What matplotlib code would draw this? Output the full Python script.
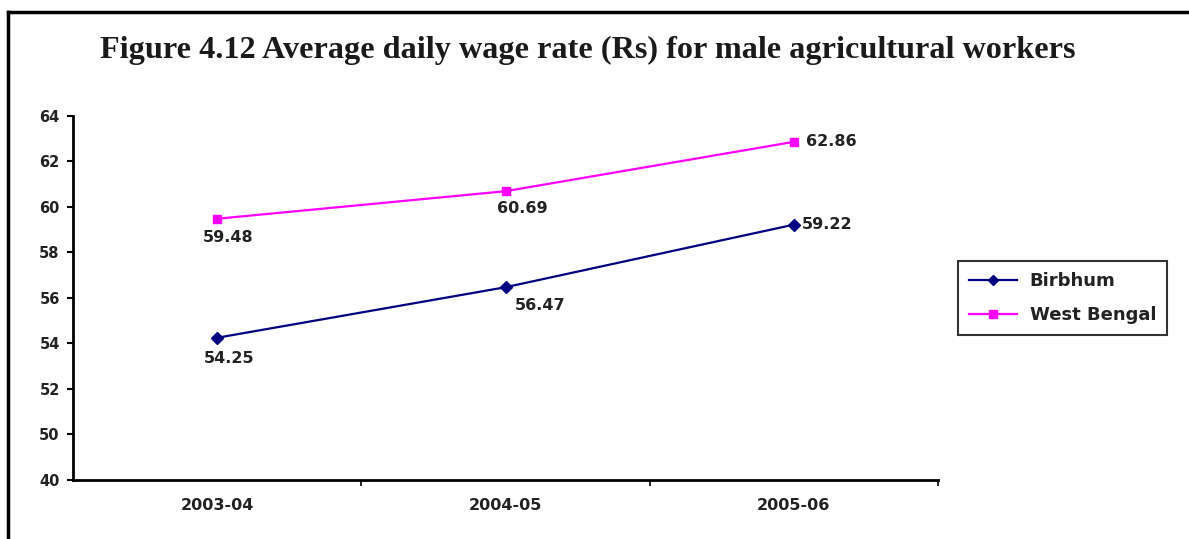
import matplotlib.pyplot as plt
from matplotlib.lines import Line2D

years = ["2003-04", "2004-05", "2005-06"]
birbhum = [54.25, 56.47, 59.22]
west_bengal = [59.48, 60.69, 62.86]

# the y axis is broken: the bottom tick stands for 40, the rest run 50..64
y_ticks = [48, 50, 52, 54, 56, 58, 60, 62, 64]
y_tick_labels = ["40", "50", "52", "54", "56", "58", "60", "62", "64"]

plt.rcParams["font.family"] = ["DejaVu Sans"]
text_color = "#222222"

fig = plt.figure(figsize=(11.89, 5.39), dpi=100)
ax = fig.add_axes([0.0614, 0.1095, 0.7275, 0.6755])

x = list(range(len(years)))
ax.plot(x, birbhum, color="#000080", lw=1.6, marker="D", ms=6,
        label="Birbhum")
ax.plot(x, west_bengal, color="#FF00FF", lw=1.6, marker="s", ms=6,
        label="West Bengal")

# value labels, offsets in pixels from each point
wb_offsets = [(11, -19, "center"), (17, -17, "center"), (12, 0, "left")]
bb_offsets = [(12, -21, "center"), (35, -18, "center"), (8, 0, "left")]
for series, offsets in [(west_bengal, wb_offsets), (birbhum, bb_offsets)]:
    for i, v in enumerate(series):
        dx, dy, ha = offsets[i]
        ax.annotate(f"{v:.2f}", (i, v), xytext=(dx, dy),
                    textcoords="offset pixels", ha=ha, va="center",
                    fontsize=11.5, fontweight="bold", color=text_color)

ax.set_xlim(-0.5, 2.5)
ax.set_ylim(48, 64)
ax.set_yticks(y_ticks)
ax.set_yticklabels(y_tick_labels)
ax.set_xticks(x)
ax.set_xticklabels(years)
ax.set_xticks([0.5, 1.5, 2.5], minor=True)

ax.tick_params(axis="y", direction="out", length=4.5, width=1.5,
               labelsize=10.5, pad=5)
ax.tick_params(axis="x", which="major", length=0, labelsize=11.5, pad=13)
ax.tick_params(axis="x", which="minor", direction="out", length=4, width=1.2)
for lab in ax.get_xticklabels() + ax.get_yticklabels():
    lab.set_fontweight("bold")
    lab.set_color(text_color)

for side in ["top", "right"]:
    ax.spines[side].set_visible(False)
for side in ["left", "bottom"]:
    ax.spines[side].set_linewidth(2)

leg = fig.legend(loc="center left", bbox_to_anchor=(0.806, 0.447),
                 frameon=True, fancybox=False, edgecolor="black",
                 fontsize=13, handlelength=2.65, borderpad=0.6,
                 labelspacing=0.9, handletextpad=0.7, borderaxespad=0,
                 markerscale=0.9)
leg.get_frame().set_linewidth(1.5)
for t in leg.get_texts():
    t.set_fontweight("bold")
    t.set_color(text_color)

fig.text(0.494, 0.892,
         "Figure 4.12 Average daily wage rate (Rs) for male agricultural workers",
         ha="center", va="baseline", fontsize=23.2, fontweight="bold",
         family="Liberation Serif", color="#1a1a1a")

# frame lines along the top and left edge
fig.add_artist(Line2D([0.007, 1.0], [0.978, 0.978], color="black", lw=2.5,
                      transform=fig.transFigure))
fig.add_artist(Line2D([0.007, 0.007], [0.0, 0.978], color="black", lw=2.5,
                      transform=fig.transFigure))

fig.savefig("out.png", dpi=100)
